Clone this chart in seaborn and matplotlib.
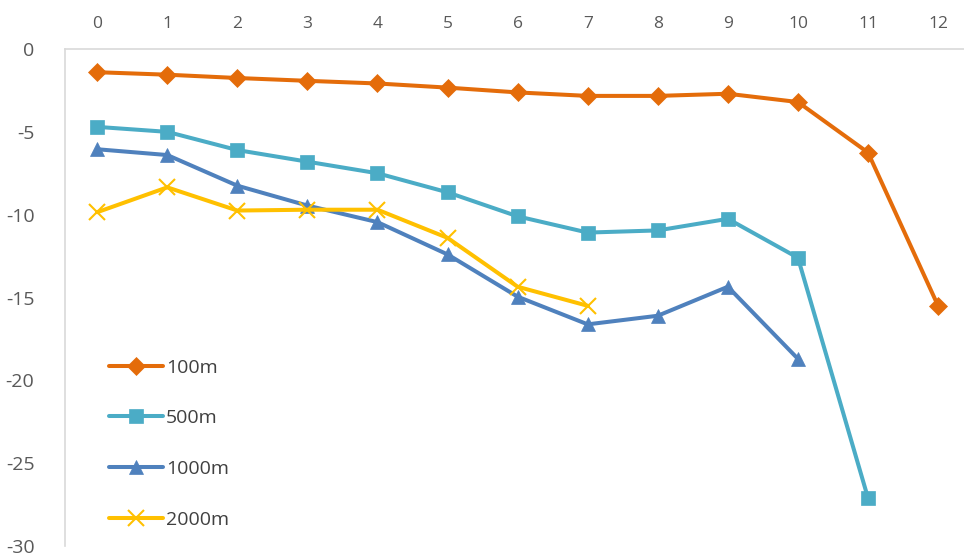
import numpy as np
import pandas as pd
import seaborn as sns
import matplotlib
matplotlib.use("Agg")
import matplotlib.pyplot as plt

x_100 = [0, 1, 2, 3, 4, 5, 6, 7, 8, 9, 10, 11, 12]
y_100 = [-1.4, -1.55, -1.75, -1.92, -2.08, -2.33, -2.62, -2.83, -2.83, -2.7, -3.2, -6.25, -15.5]
x_500 = [0, 1, 2, 3, 4, 5, 6, 7, 8, 9, 10, 11]
y_500 = [-4.7, -5.0, -6.1, -6.8, -7.5, -8.65, -10.1, -11.08, -10.95, -10.25, -12.6, -27.1]
x_1000 = [0, 1, 2, 3, 4, 5, 6, 7, 8, 9, 10]
y_1000 = [-6.05, -6.4, -8.25, -9.45, -10.45, -12.4, -14.95, -16.62, -16.1, -14.35, -18.7]
x_2000 = [0, 1, 2, 3, 4, 5, 6, 7]
y_2000 = [-9.85, -8.35, -9.75, -9.7, -9.7, -11.4, -14.35, -15.5]

labels = ["100m", "500m", "1000m", "2000m"]
colors = ["#E46C0A", "#4BACC6", "#4F81BD", "#FFC000"]
markers = ["D", "s", "^", "x"]
msizes = [9.5, 10.5, 10.5, 11]

sns.set_style("white")
plt.rcParams['font.family'] = ['Open Sans', 'DejaVu Sans']
plt.rcParams['axes.unicode_minus'] = False

fig = plt.figure(figsize=(9.64, 5.57), dpi=100)
ax = fig.add_axes([0.0674, 0.0197, 0.9326, 0.8923])

series = [(x_100, y_100), (x_500, y_500), (x_1000, y_1000), (x_2000, y_2000)]
for (xs, ys), lab, c, m, ms in zip(series, labels, colors, markers, msizes):
    df = pd.DataFrame({"x": xs, "y": ys})
    sns.lineplot(data=df, x="x", y="y", ax=ax, color=c, marker=m, markersize=ms,
                 linewidth=2.9, label=lab, markeredgecolor=c,
                 markeredgewidth=1.5 if m == "x" else 0.5)

ax.set_xlim(-0.46, 12.37)
ax.set_ylim(-30, 0)
ax.set_xticks(range(0, 13))
ax.set_yticks([0, -5, -10, -15, -20, -25, -30])
ax.xaxis.tick_top()
ax.tick_params(axis='x', length=0, pad=12, labelsize=12.5, colors="#595959")
ax.tick_params(axis='y', length=0, pad=22, labelsize=14, colors="#595959")
ax.set_xlabel("")
ax.set_ylabel("")
for s in ["right", "bottom"]:
    ax.spines[s].set_visible(False)
ax.spines["left"].set_color("#D9D9D9")
ax.spines["top"].set_color("#D9D9D9")
ax.spines["left"].set_linewidth(1.2)
ax.spines["top"].set_linewidth(1.2)

leg = ax.legend(loc="lower left", bbox_to_anchor=(0.030, 0.0), frameon=False,
                handlelength=2.75, handletextpad=0.15, labelspacing=1.68,
                fontsize=14)
for t in leg.get_texts():
    t.set_color("#404040")

fig.savefig("out.png", dpi=100)
